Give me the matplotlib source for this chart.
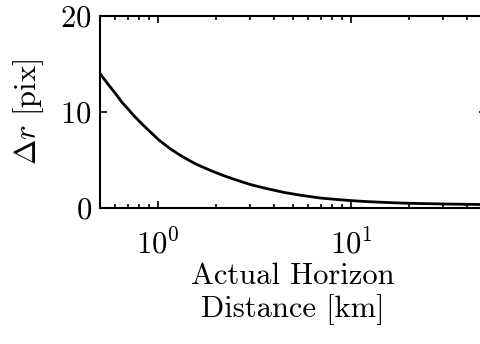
import matplotlib
matplotlib.use("Agg")
import matplotlib.pyplot as plt
from matplotlib.ticker import LogLocator, NullFormatter

plt.rcParams["font.family"] = "serif"
plt.rcParams["font.serif"] = ["cmr10"]
plt.rcParams["mathtext.fontset"] = "cm"
plt.rcParams["axes.formatter.use_mathtext"] = True
plt.rcParams["axes.unicode_minus"] = False

# horizon distance [km] vs. pixel offset
distance_km = [0.5, 0.55, 0.6, 0.65, 0.7, 0.75, 0.85, 0.92, 1.0, 1.15, 1.3, 1.45,
               1.6, 1.9, 2.2, 2.6, 3.0, 3.6, 4.5, 5.5, 7.0, 8.5, 10.0, 12.0,
               15.0, 18.0, 22.0, 25.0, 30.0, 38.0, 50.0]
delta_r_pix = [14.0, 12.9, 11.95, 11.0, 10.3, 9.6, 8.5, 7.85, 7.15, 6.2, 5.5, 4.95,
               4.5, 3.85, 3.35, 2.85, 2.45, 2.05, 1.62, 1.32, 1.03, 0.88, 0.77, 0.67,
               0.58, 0.52, 0.47, 0.45, 0.42, 0.39, 0.36]

yticks = [0, 10, 20]

fig = plt.figure(figsize=(4.81, 3.44), dpi=100)
ax = fig.add_axes([100 / 481, 1 - 208 / 344, 386 / 481, 192 / 344])

ax.plot(distance_km, delta_r_pix, color="black", linewidth=2.0)

ax.set_xscale("log")
ax.set_xlim(0.5, 50)
ax.set_ylim(0, 20)
ax.set_yticks(yticks)
ax.xaxis.set_minor_locator(LogLocator(base=10, subs=range(2, 10)))
ax.xaxis.set_minor_formatter(NullFormatter())

for s in ax.spines.values():
    s.set_linewidth(1.5)

ax.tick_params(which="both", direction="in", top=True, right=True,
               labelsize=22, width=1.2)
ax.tick_params(which="major", length=5)
ax.tick_params(which="minor", length=3)
ax.tick_params(axis="x", pad=15)
ax.tick_params(axis="y", pad=6)

ax.set_ylabel(r"$\Delta r$ [pix]", fontsize=22, labelpad=10)
ax.set_xlabel("Actual Horizon\nDistance [km]", fontsize=22, linespacing=1.15, labelpad=2)

fig.savefig("out.png", dpi=100)
